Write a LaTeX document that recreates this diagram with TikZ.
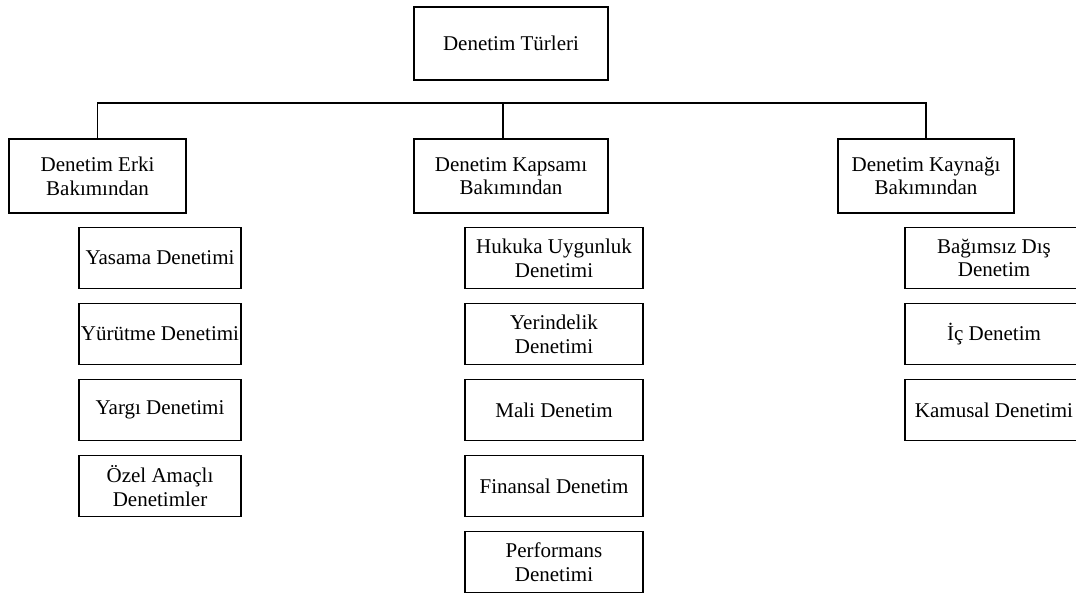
\documentclass[tikz,border=0pt]{standalone}
\usepackage{fontspec}
\setmainfont{Liberation Serif}
\usetikzlibrary{calc}

\begin{document}
\begin{tikzpicture} [x=.6pt, y=-.6pt, line width=.8pt,
  box/.style={draw, align=center, inner xsep=1pt, font=\fontsize{12.6}{14.2}\selectfont},
  topbox/.style={box, minimum width=116.4pt, minimum height=43.8pt},
  headbox/.style={box, minimum height=44.4pt},
  itembox/.style={box, minimum height=36.3pt}]
\clip (0,0) rectangle (1076,595);

\node[topbox] (turler) at (511,43.5) {Denetim Türleri};

\node[headbox, minimum width=106.2pt] (erki) at (97.5,176) {Denetim Erki\\Bakımından};
\node[headbox, minimum width=116.4pt] (kapsam) at (511,176) {Denetim Kapsamı\\Bakımından};
\node[headbox, minimum width=105.6pt] (kaynak) at (926,176) {Denetim Kaynağı\\Bakımından};

% bus line
\coordinate (busL) at (97.5,103);
\coordinate (busM) at (503,103);
\coordinate (busR) at (926,103);
\draw (erki.north) -- (busL) -- (busR) -- (kaynak.north);
\draw (busM) -- (busM |- kapsam.north);

\foreach \t [count=\i] in {Yasama Denetimi, Yürütme Denetimi, Yargı Denetimi, {Özel Amaçlı\\Denetimler}}
  \node[itembox, minimum width=97.2pt] (erki\i) at (160, {258+76*(\i-1)}) {\t};

\foreach \t [count=\i] in {{Hukuka Uygunluk\\Denetimi}, {Yerindelik\\Denetimi}, Mali Denetim, Finansal Denetim, {Performans\\Denetimi}}
  \node[itembox, minimum width=106.8pt] (kapsam\i) at (554, {258+76*(\i-1)}) {\t};

\foreach \t [count=\i] in {{Bağımsız Dış\\Denetim}, İç Denetim, Kamusal Denetimi}
  \node[itembox, minimum width=106.8pt] (kaynak\i) at (994, {258+76*(\i-1)}) {\t};

\end{tikzpicture}
\end{document}
